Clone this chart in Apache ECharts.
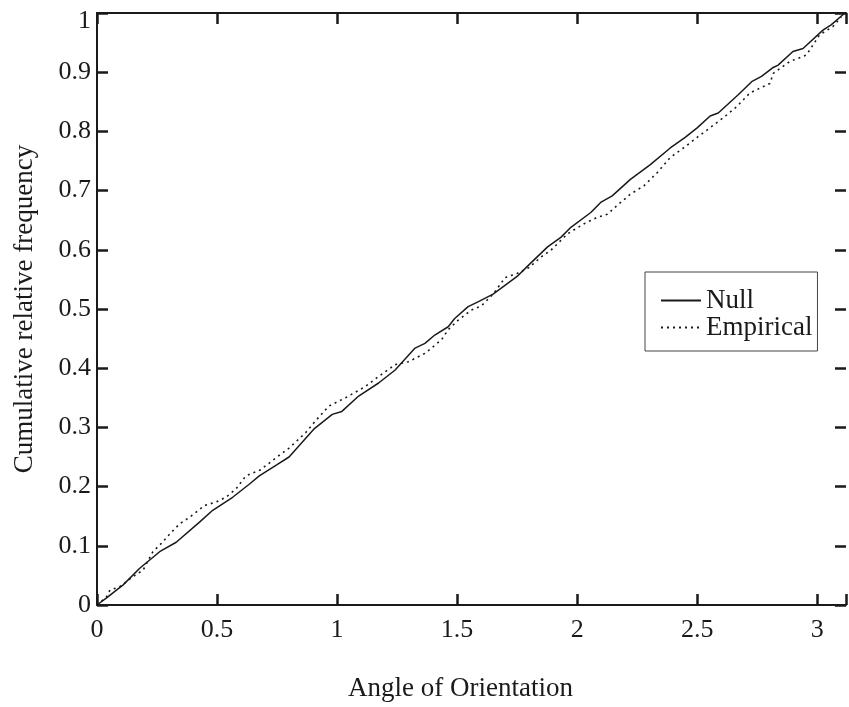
<!DOCTYPE html>
<html>
<head>
<meta charset="utf-8">
<script src="https://cdn.jsdelivr.net/npm/echarts@6/dist/echarts.min.js"></script>
<style>
html,body{margin:0;padding:0;background:#fff;}
#chart{width:849px;height:707px;}
</style>
</head>
<body>
<div id="chart"></div>
<script>
var xTicks = [0, 0.5, 1, 1.5, 2, 2.5, 3];
var yTicks = [0, 0.1, 0.2, 0.3, 0.4, 0.5, 0.6, 0.7, 0.8, 0.9, 1];
var seriesNames = ['Null', 'Empirical'];
var xTitle = 'Angle of Orientation';
var yTitle = 'Cumulative relative frequency';

var nullX = [0, 0.04, 0.109, 0.178, 0.261, 0.33, 0.427, 0.482, 0.565, 0.634, 0.676, 0.75, 0.80, 0.85, 0.903, 0.98, 1.02, 1.09, 1.173, 1.242, 1.325, 1.366, 1.407, 1.463, 1.49, 1.546, 1.587, 1.65, 1.75, 1.8, 1.877, 1.932, 1.974, 2.057, 2.098, 2.146, 2.222, 2.305, 2.388, 2.45, 2.5, 2.554, 2.588, 2.671, 2.727, 2.768, 2.817, 2.837, 2.899, 2.941, 3.024, 3.058, 3.107, 3.115];
var nullY = [0, 0.012, 0.034, 0.062, 0.090, 0.106, 0.140, 0.160, 0.182, 0.204, 0.218, 0.237, 0.250, 0.273, 0.297, 0.322, 0.327, 0.353, 0.375, 0.397, 0.434, 0.442, 0.456, 0.470, 0.484, 0.504, 0.512, 0.525, 0.555, 0.575, 0.605, 0.621, 0.638, 0.663, 0.680, 0.691, 0.719, 0.744, 0.772, 0.790, 0.806, 0.826, 0.831, 0.862, 0.884, 0.893, 0.908, 0.912, 0.935, 0.940, 0.971, 0.980, 0.997, 1.0];

var empX = [0, 0.04, 0.054, 0.095, 0.15, 0.192, 0.233, 0.268, 0.303, 0.344, 0.385, 0.448, 0.496, 0.537, 0.579, 0.62, 0.68, 0.75, 0.8, 0.869, 0.91, 0.966, 1.035, 1.118, 1.173, 1.242, 1.297, 1.366, 1.435, 1.463, 1.504, 1.559, 1.6, 1.65, 1.7, 1.75, 1.8, 1.85, 1.89, 1.96, 2.029, 2.084, 2.126, 2.167, 2.222, 2.278, 2.333, 2.388, 2.443, 2.5, 2.55, 2.618, 2.665, 2.72, 2.803, 2.817, 2.886, 2.955, 3.01, 3.065, 3.1];
var empY = [0, 0.014, 0.025, 0.031, 0.048, 0.059, 0.090, 0.104, 0.120, 0.137, 0.148, 0.168, 0.174, 0.182, 0.196, 0.218, 0.228, 0.250, 0.265, 0.291, 0.311, 0.336, 0.350, 0.369, 0.386, 0.406, 0.411, 0.425, 0.448, 0.465, 0.481, 0.498, 0.505, 0.525, 0.553, 0.560, 0.570, 0.588, 0.599, 0.627, 0.644, 0.655, 0.660, 0.675, 0.694, 0.708, 0.730, 0.756, 0.772, 0.790, 0.805, 0.826, 0.842, 0.865, 0.881, 0.898, 0.918, 0.929, 0.963, 0.977, 0.993];

function zip(a, b) { return a.map(function (v, i) { return [v, b[i]]; }); }

var FONT = '"Liberation Serif", "Times New Roman", serif';
var xMax = 3.12;

function isTick(list, v) {
  for (var i = 0; i < list.length; i++) if (Math.abs(list[i] - v) < 1e-9) return true;
  return false;
}

function axisCommon(showLine) {
  return {
    axisLine: { show: showLine !== false, onZero: false, lineStyle: { color: '#1a1a1a', width: 2 } },
    axisTick: { inside: true, length: 11, lineStyle: { color: '#1a1a1a', width: 2.5 } },
    splitLine: { show: false }
  };
}

var chart = echarts.init(document.getElementById('chart'), null, { renderer: 'canvas' });
chart.setOption({
  backgroundColor: '#ffffff',
  animation: false,
  textStyle: { fontFamily: FONT },
  grid: { left: 97, right: -1, top: 13, bottom: 97, containLabel: false },
  legend: {
    orient: 'vertical',
    left: 645,
    top: 272,
    data: seriesNames,
    padding: [15, 5, 10, 15],
    itemGap: 0,
    itemWidth: 40,
    itemHeight: 14,
    borderColor: '#444',
    borderWidth: 1,
    backgroundColor: '#fff',
    itemStyle: { opacity: 0 },
    textStyle: { fontFamily: FONT, fontSize: 27, color: '#1a1a1a', lineHeight: 24 }
  },
  xAxis: [
    Object.assign({
      type: 'value', position: 'bottom', min: 0, max: xMax, interval: 0.5,
      name: xTitle, nameLocation: 'middle', nameGap: 70,
      nameTextStyle: { fontFamily: FONT, fontSize: 27, color: '#1a1a1a', padding: [0, 22, 0, 0] },
      axisLabel: {
        margin: 12, fontFamily: FONT, fontSize: 26, color: '#1a1a1a',
        formatter: function (v) { return isTick(xTicks, v) ? String(v) : ''; }
      }
    }, axisCommon()),
    Object.assign({
      type: 'value', position: 'top', min: 0, max: xMax, interval: 0.5,
      axisLabel: { show: false }
    }, axisCommon())
  ],
  yAxis: [
    Object.assign({
      type: 'value', position: 'left', min: 0, max: 1, interval: 0.1,
      name: yTitle, nameLocation: 'middle', nameGap: 59,
      nameTextStyle: { fontFamily: FONT, fontSize: 27, color: '#1a1a1a' },
      axisLabel: {
        margin: 6, fontFamily: FONT, fontSize: 26, color: '#1a1a1a',
        formatter: function (v) {
          if (!isTick(yTicks, v)) return '';
          var s = String(Math.round(v * 10) / 10);
          return v >= 1 ? '{top|' + s + '}' : s;
        },
        rich: { top: { fontFamily: FONT, fontSize: 26, color: '#1a1a1a', padding: [16, 0, 0, 0] } }
      }
    }, axisCommon()),
    Object.assign({
      type: 'value', position: 'right', min: 0, max: 1, interval: 0.1,
      axisLabel: { show: false }
    }, axisCommon(false))
  ],
  series: [
    {
      name: seriesNames[0], type: 'line', data: zip(nullX, nullY),
      xAxisIndex: 0, yAxisIndex: 0,
      symbol: 'none', showSymbol: false, smooth: false,
      itemStyle: { color: '#1a1a1a' },
      lineStyle: { color: '#1a1a1a', width: 1.5, type: 'solid' }
    },
    {
      name: seriesNames[1], type: 'line', data: zip(empX, empY),
      xAxisIndex: 0, yAxisIndex: 0,
      symbol: 'none', showSymbol: false, smooth: false,
      itemStyle: { color: '#1a1a1a' },
      lineStyle: { color: '#1a1a1a', width: 1.6, type: [2, 4] }
    }
  ]
});
</script>
</body>
</html>
